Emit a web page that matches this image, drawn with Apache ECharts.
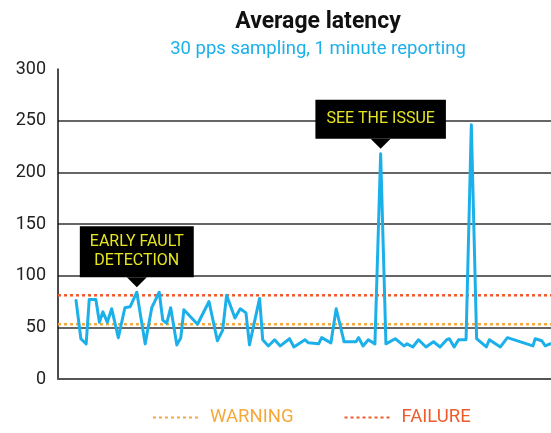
<!DOCTYPE html>
<html>
<head>
<meta charset="utf-8">
<script src="https://cdn.jsdelivr.net/npm/echarts@6/dist/echarts.min.js"></script>
<style>html,body{margin:0;padding:0;background:#fff}#c{width:551px;height:433px}</style>
</head>
<body>
<div id="c"></div>
<script>
// minutes and average latency (ms)
var minutes = [4.1,5.2,6.4,7.1,8.6,9.4,10.2,11.2,12.2,13.7,15.2,16.4,17.9,19.8,21.3,23.0,23.8,24.7,25.6,27.0,27.9,28.6,31.7,34.3,36.2,37.4,38.3,40.2,41.4,42.7,43.5,45.8,46.5,47.8,49.2,50.5,52.6,53.6,56.1,56.9,59.2,59.9,62.0,63.2,65.0,67.7,68.3,69.3,70.5,72.0,73.3,74.5,76.6,78.6,79.3,80.6,81.9,83.6,85.3,86.8,88.3,88.9,90.0,91.0,92.7,93.9,95.1,97.3,98.0,100.5,102.1,107.9,108.4,109.9,110.7,111.8];
var latency = [76,39,34,77,77,55,65,55,68,40,69,70,84,34,69,84,57,54,69,33,40,67,53,75,37,47,81,59,68,64,33,78,38,32,38,32,39,31,38,35,34,40,35,68,36,36,40,32,38,34,218,34,39,32,34,31,38,31,36,31,38,39,31,38,38,246,39,31,38,31,40,32,39,37,32,34];
var yTicks = [0,50,100,150,200,250,300];
var warningLevel = 53;
var failureLevel = 81;
var xRange = [0,112];
var annotations = [
  {index: 12, text: 'EARLY FAULT\nDETECTION', pad: [6,10,7,10]},
  {index: 50, text: 'SEE THE ISSUE', pad: [10,11,10,11]}
];

var seriesData = minutes.map(function(m,i){return [m, latency[i]];});
var chart = echarts.init(document.getElementById('c'));
var FONT = 'Roboto';
chart.setOption({
  animation: false,
  textStyle: {fontFamily: FONT},
  title: {
    text: 'Average latency',
    subtext: '30 pps sampling, 1 minute reporting',
    left: 313, top: 6, textAlign: 'center', itemGap: 6,
    textStyle: {fontFamily: FONT, fontSize: 23, fontWeight: 'bold', color: '#111'},
    subtextStyle: {fontFamily: FONT, fontSize: 18.5, color: '#1cb0ea'}
  },
  legend: {
    left: 147, bottom: 1, itemWidth: 45, itemHeight: 12, itemGap: 50,
    itemStyle: {opacity: 0},
    data: [
      {name: 'WARNING', textStyle: {color: '#f7a83b'}},
      {name: 'FAILURE', textStyle: {color: '#ef5b2d'}}
    ],
    textStyle: {fontFamily: FONT, fontSize: 18.5, padding: [0,0,0,7]}
  },
  grid: {left: 58, right: 0, top: 69, bottom: 54},
  xAxis: {
    type: 'value', min: xRange[0], max: xRange[1],
    axisLine: {show: true, lineStyle: {color: '#555', width: 2}},
    axisTick: {show: false}, axisLabel: {show: false}, splitLine: {show: false}
  },
  yAxis: {
    type: 'value', min: yTicks[0], max: yTicks[yTicks.length-1], interval: 50,
    axisLine: {show: true, lineStyle: {color: '#111', width: 1.5}},
    axisTick: {show: false},
    axisLabel: {fontFamily: FONT, fontSize: 18, color: '#222', margin: 12},
    splitLine: {show: true, lineStyle: {color: ['transparent','#333','#333','#333','#333','#333','transparent'], width: 1.5}}
  },
  series: [
    {
      name: 'WARNING', type: 'line', symbol: 'none', silent: true,
      data: [[xRange[0], warningLevel],[xRange[1], warningLevel]],
      lineStyle: {color: '#f7a83b', width: 2.5, type: [3,3]}, itemStyle: {color: '#f7a83b'}
    },
    {
      name: 'FAILURE', type: 'line', symbol: 'none', silent: true,
      data: [[xRange[0], failureLevel],[xRange[1], failureLevel]],
      lineStyle: {color: '#ef5b2d', width: 2.5, type: [3,3]}, itemStyle: {color: '#ef5b2d'}
    },
    {
      name: 'Latency', type: 'line', symbol: 'none', data: seriesData,
      lineStyle: {color: '#1cb0ea', width: 3, join: 'round', cap: 'round'},
      itemStyle: {color: '#1cb0ea'},
      markPoint: {
        silent: true,
        data: annotations.map(function(a){
          return {
            coord: seriesData[a.index],
            symbol: 'triangle', symbolRotate: 180, symbolSize: [20,10], symbolOffset: [0,-10],
            itemStyle: {color: '#000'},
            label: {
              show: true, position: 'top', distance: 0, formatter: a.text,
              backgroundColor: '#000', color: '#e6e620', fontFamily: FONT,
              fontSize: 16, lineHeight: 19, padding: a.pad, align: 'center'
            }
          };
        })
      }
    }
  ]
});
</script>
</body>
</html>
